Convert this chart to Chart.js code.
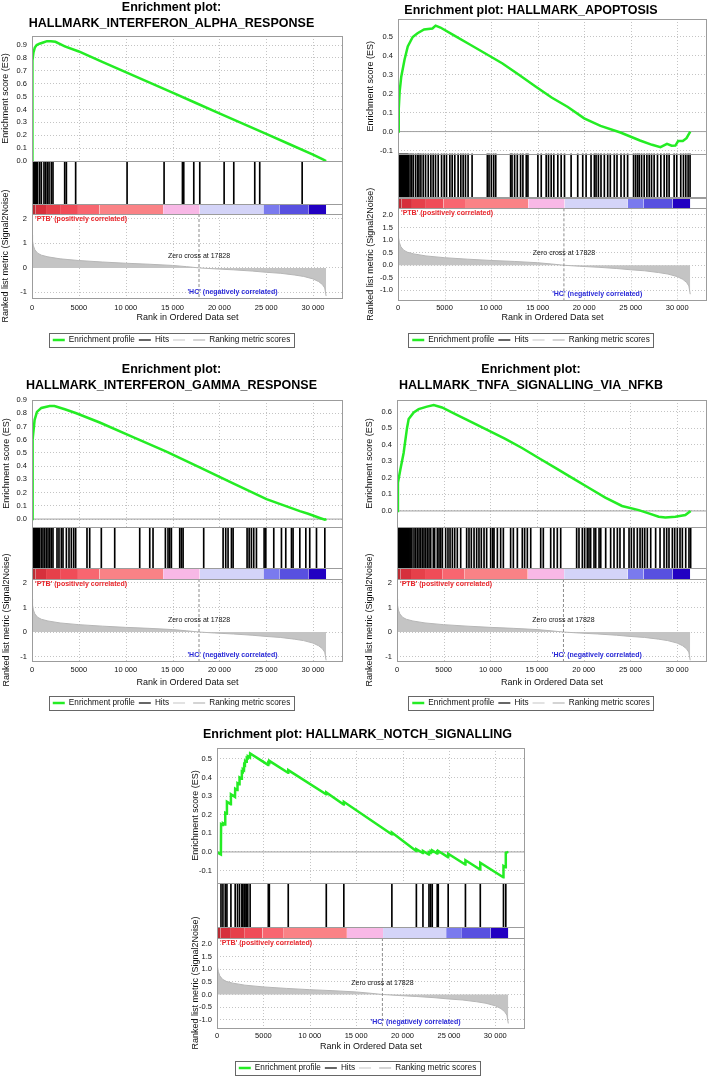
<!DOCTYPE html>
<html>
<head>
<meta charset="utf-8">
<title>GSEA enrichment plots</title>
<script src="https://cdn.jsdelivr.net/npm/chart.js@4.4.1/dist/chart.umd.min.js"></script>
<style>
  html, body { margin: 0; padding: 0; background: #fff; }
  body { width: 709px; height: 1078px; position: relative; overflow: hidden; }
  canvas { position: absolute; }
</style>
</head>
<body>
<canvas id="c1" width="354" height="356" style="left:0;top:0"></canvas>
<canvas id="c2" width="354" height="356" style="left:355px;top:0"></canvas>
<canvas id="c3" width="354" height="362" style="left:0;top:356px"></canvas>
<canvas id="c4" width="354" height="362" style="left:355px;top:356px"></canvas>
<canvas id="c5" width="354" height="356" style="left:190px;top:722px"></canvas>
<script>
// ---- data ----

// x axis ticks
var rankTicks = [0, 5000, 10000, 15000, 20000, 25000, 30000];
var rankTickLabels = ['0', '5000', '10 000', '15 000', '20 000', '25 000', '30 000'];

// ranked list metric (same ranked list for every gene set)
var metricRank  = [0, 60, 150, 300, 600, 1000, 1700, 3000, 5000, 7500, 10000, 12500, 15000, 16500, 17828, 19500, 21500, 23500, 25000, 26500, 28000, 29000, 30000, 30600, 31000, 31250, 31400];
var metricValue = [1.35, 1.1, 0.9, 0.74, 0.6, 0.52, 0.45, 0.37, 0.3, 0.24, 0.19, 0.15, 0.1, 0.05, 0, -0.04, -0.08, -0.13, -0.18, -0.22, -0.29, -0.35, -0.45, -0.56, -0.68, -0.82, -1.15];
var zeroCross = 17828;

// phenotype colour bar
var colorStart = [0, 400, 1500, 3000, 4900, 7200, 14000, 17900, 24700, 26400, 29500];
var colorEnd   = [400, 1500, 3000, 4900, 7200, 14000, 17900, 24700, 26400, 29500, 31400];
var colorFill  = ['#b82c34', '#d6303c', '#e6404a', '#f04c58', '#f86670', '#fa8286', '#f8b8e6', '#d4d4f8', '#7a7aee', '#5850e0', '#2200c2'];

// HALLMARK_INTERFERON_ALPHA_RESPONSE
var alphaRank = [0, 15, 40, 80, 150, 300, 500, 800, 1200, 1600, 2000, 2500, 3500, 5000, 7500, 10000, 12500, 15000, 17500, 20000, 22500, 25000, 27500, 30000, 31000, 31400];
var alphaES   = [0, 0.3, 0.6, 0.78, 0.84, 0.88, 0.9, 0.91, 0.92, 0.93, 0.93, 0.925, 0.89, 0.85, 0.77, 0.69, 0.61, 0.53, 0.45, 0.37, 0.29, 0.21, 0.13, 0.05, 0.015, 0];
var alphaHits = [0, 100, 200, 300, 400, 500, 600, 820, 1000, 1280, 1460, 1640, 1820, 2060, 2240, 3490, 3670, 4660, 10150, 14100, 16060, 16200, 17270, 17910, 20510, 21540, 23780, 24310, 28840];

// HALLMARK_APOPTOSIS
var apopRank = [0, 80, 175, 350, 700, 1050, 1580, 2100, 2800, 3700, 4040, 4560, 5970, 7720, 9480, 11230, 12990, 14740, 16500, 18250, 20000, 21760, 23900, 26000, 27300, 28200, 28900, 29400, 29800, 30100, 30600, 31000, 31400];
var apopES   = [0, 0.12, 0.21, 0.29, 0.38, 0.45, 0.5, 0.52, 0.54, 0.545, 0.56, 0.55, 0.51, 0.46, 0.41, 0.36, 0.3, 0.24, 0.18, 0.13, 0.07, 0.03, -0.005, -0.047, -0.07, -0.082, -0.065, -0.075, -0.074, -0.05, -0.05, -0.035, 0];
var apopHits = [0, 100, 200, 300, 400, 500, 600, 700, 800, 900, 1000, 1100, 1290, 1460, 1640, 1890, 2110, 2250, 2460, 2710, 2960, 3250, 3530, 3780, 4030, 4320, 4680, 4960, 5210, 5570, 5820, 6100, 6460, 6750, 7000, 7250, 7530, 7960,
  9600, 9780, 10030, 10280, 10500, 12100, 12250, 12530, 12820, 13170, 13420, 13780, 13960, 15030, 15390, 15920, 16170, 16460, 16740, 17170, 17530, 17890,
  18600, 19310, 19850, 20210, 20740, 21100, 21280, 21530, 21810, 22170, 22530, 22810, 23240, 23530, 23960, 24310, 24670,
  25310, 25530, 25740, 25920, 26170, 26450, 26740, 26990, 27240, 27520, 27880, 28240, 28600, 28880, 29130, 29670, 29950, 30380, 30670, 30920, 31170, 31380];

// HALLMARK_INTERFERON_GAMMA_RESPONSE
var gammaRank = [0, 30, 100, 280, 530, 1000, 1890, 2400, 3500, 4730, 7230, 10790, 14350, 17900, 21470, 25030, 28590, 29480, 30720, 31260, 31430];
var gammaES   = [0, 0.3, 0.6, 0.75, 0.81, 0.84, 0.855, 0.855, 0.83, 0.8, 0.73, 0.62, 0.51, 0.39, 0.27, 0.15, 0.06, 0.04, 0.008, -0.005, 0];
var gammaHits = [0, 100, 200, 300, 400, 500, 600, 700, 820, 1000, 1170, 1350, 1530, 1710, 1890, 2060, 2240, 2670, 2880, 3130, 3310, 3670, 3950, 4200, 4450, 4660, 5870, 6160, 7400, 8830,
  11500, 12570, 12920, 14240, 14520, 14700, 14880, 15770, 15950, 16130, 18330, 20400, 20680, 20930, 21290, 21470, 22960, 23180, 23420, 23670, 23960,
  24780, 24960, 25810, 26630, 27090, 27700, 27870, 28590, 29230, 29650, 30370, 31260];

// HALLMARK_TNFA_SIGNALLING_VIA_NFKB
var tnfRank = [0, 100, 360, 710, 1070, 1250, 1790, 2320, 3210, 3930, 4820, 6250, 8040, 9820, 11600, 13390, 15170, 16960, 18750, 20530, 22310, 24100, 25890, 26960, 28030, 28740, 29810, 30880, 31450];
var tnfES   = [0, 0.17, 0.25, 0.35, 0.5, 0.555, 0.595, 0.615, 0.63, 0.64, 0.625, 0.585, 0.535, 0.485, 0.435, 0.38, 0.32, 0.26, 0.2, 0.14, 0.08, 0.03, 0.005, -0.015, -0.035, -0.04, -0.035, -0.025, 0];
var tnfHits = [0, 100, 200, 300, 400, 500, 600, 700, 800, 900, 1000, 1100, 1200, 1300, 1400, 1500, 1600,
  1820, 2000, 2180, 2360, 2530, 2710, 2890, 3070, 3250, 3430, 3610, 3890, 4030, 4320, 4500, 4680, 4860, 5210, 5460, 5680, 5930, 6180, 6460, 6820,
  7460, 7710, 7960, 8250, 8530, 8780, 9030, 9320, 9600, 10030, 10250, 10390, 10750, 11100, 11390, 12170, 12460, 12890, 13420, 13670, 13960, 14320,
  15390, 15670, 16460, 16810, 17170, 17530, 19240, 19490, 19850, 20100, 20380, 20560, 20740, 21100, 21280, 21640, 21820, 22350, 22880, 23240, 23600, 23880,
  24310, 24850, 25100, 25380, 25740, 26030, 26280, 26530, 26810, 27170, 27700, 28170, 28600, 28880, 29130, 29490, 29740, 30020, 30310, 30560, 30920, 31270, 31450];

// HALLMARK_NOTCH_SIGNALLING
var notchRank = [0, 300, 420, 440, 620, 640, 870, 890, 1050, 1070, 1480, 1500, 1940, 1960, 2190, 2210, 2410, 2430, 2660, 2680, 2760, 2780, 2910, 2930, 3010, 3030, 3190, 3210, 3300, 3320, 3550, 3570,
  5510, 5530, 5620, 5640, 7660, 7680, 11760, 11780, 13650, 13670, 18830, 18850, 21470, 21490, 22180, 22200, 22830, 22850, 23010, 23030, 23180, 23200, 23720, 23740, 23830, 23850,
  24900, 24920, 26760, 26780, 28360, 28380, 30860, 30880, 31110, 31130, 31400];
var notchES   = [0, -0.01, -0.013, 0.15, 0.145, 0.155, 0.148, 0.21, 0.205, 0.27, 0.257, 0.31, 0.296, 0.34, 0.333, 0.37, 0.364, 0.4, 0.393, 0.43, 0.427, 0.445, 0.44, 0.47, 0.467, 0.49, 0.485, 0.505, 0.502, 0.515, 0.508, 0.53,
  0.468, 0.48, 0.477, 0.49, 0.426, 0.44, 0.31, 0.32, 0.255, 0.27, 0.095, 0.105, 0.005, 0.015, -0.006, 0.005, -0.014, -0.002, -0.006, 0.004, 0, 0.008, -0.008, 0, -0.003, 0.005,
  -0.028, -0.01, -0.068, -0.045, -0.095, -0.058, -0.136, -0.075, -0.082, -0.005, 0];
var notchHits = [430, 640, 890, 1070, 1500, 1960, 2210, 2430, 2680, 2780, 2930, 3030, 3210, 3320, 3570, 5530, 5640, 7680, 11780, 13670, 18850, 21490, 22200, 22850, 23030, 23200, 23740, 23850, 24920, 26780, 28380, 30880, 31130];

var legendLabels = ['Enrichment profile', 'Hits', '', 'Ranking metric scores'];

// ---- styling ----
var GREEN = '#24ec24';
var GRID = '#c4c4c4';
var FRAME = '#9c9c9c';
var RANK_MAX = 33200;

Chart.defaults.font.family = "'Liberation Sans', Arial, sans-serif";
Chart.defaults.color = '#111';
Chart.defaults.animation = false;

function pts(xs, ys) {
  return xs.map(function (x, i) { return {x: x, y: ys[i]}; });
}

// frames, x grid limited to ES / metric boxes, annotation text, legend box
var gseaFrame = {
  id: 'gseaFrame',
  beforeDatasetsDraw: function (chart) {
    var ctx = chart.ctx, s = chart.scales, x = s.x;
    ctx.save();
    ctx.strokeStyle = GRID;
    ctx.lineWidth = 1;
    ctx.setLineDash([1, 2]);
    [s.yES, s.yMet].forEach(function (y) {
      x.ticks.forEach(function (t) {
        if (t.value <= 0) return;
        var px = Math.round(x.getPixelForValue(t.value)) + 0.5;
        ctx.beginPath();
        ctx.moveTo(px, y.top);
        ctx.lineTo(px, y.bottom);
        ctx.stroke();
      });
    });
    ctx.restore();
  },
  afterDatasetsDraw: function (chart) {
    var ctx = chart.ctx, s = chart.scales, x = s.x, a = chart.chartArea;
    ctx.save();
    ctx.strokeStyle = FRAME;
    ctx.lineWidth = 1;
    [s.yES, s.yHits, s.yColor, s.yMet].forEach(function (y) {
      ctx.strokeRect(Math.round(a.left) + 0.5, Math.round(y.top) + 0.5, Math.round(a.right - a.left) - 1, Math.round(y.bottom - y.top));
    });
    var ym = s.yMet;
    ctx.font = 'bold 7px "Liberation Sans", Arial, sans-serif';
    ctx.textBaseline = 'middle';
    ctx.textAlign = 'left';
    ctx.fillStyle = '#e8242a';
    ctx.fillText("'PTB' (positively correlated)", a.left + 3, ym.top + 5);
    ctx.textAlign = 'center';
    ctx.fillStyle = '#2a2ad8';
    ctx.fillText("'HC' (negatively correlated)", x.getPixelForValue(21400), ym.bottom - 6);
    ctx.font = '7px "Liberation Sans", Arial, sans-serif';
    ctx.fillStyle = '#111';
    ctx.fillText('Zero cross at ' + zeroCross, x.getPixelForValue(zeroCross), ym.getPixelForValue(0.47));
    ctx.restore();
  },
  afterDraw: function (chart) {
    var hb = chart.legend && chart.legend.legendHitBoxes;
    if (!hb || !hb.length) return;
    var l = Infinity, r = -Infinity, t = Infinity, b = -Infinity;
    hb.forEach(function (h) {
      l = Math.min(l, h.left); r = Math.max(r, h.left + h.width);
      t = Math.min(t, h.top); b = Math.max(b, h.top + h.height);
    });
    var ctx = chart.ctx;
    ctx.save();
    ctx.strokeStyle = '#666';
    ctx.lineWidth = 1;
    ctx.strokeRect(Math.round(l - 4) + 0.5, Math.round(t - 3) + 0.5, Math.round(r - l + 8), Math.round(b - t + 6));
    ctx.restore();
  }
};

function makePanel(p) {
  var titleLine = 16, titleSize = 12.5;
  var tickSize = 7.5, axisTitleSize = 9, legendSize = 8.2, legPad = 4;
  var tPadTop = Math.max(0, p.titleCenter - titleLine / 2);
  var tPadBottom = Math.max(0, p.plotTop - tPadTop - p.title.length * titleLine);
  var xH = p.legendOff - legPad - legendSize / 2;
  var xTitlePad = Math.max(0, xH - p.xTitleOff - axisTitleSize * 1.2 / 2);
  var legH = legendSize + legPad + 10;
  var canvas = document.getElementById(p.canvas);
  var padBottom = canvas.height - p.plotBottom - xH - legH;
  var fixW = function (sc) { sc.width = p.plotLeft; };
  var yTitlePad = Math.max(0, p.yTitleX - axisTitleSize * 1.2 / 2);

  var datasets = [];
  datasets.push({type: 'line', label: legendLabels[0], data: pts(p.rank, p.es), yAxisID: 'yES',
    borderColor: GREEN, borderWidth: 2.5, pointRadius: 0, tension: 0, order: 0});
  datasets.push({type: 'bar', label: legendLabels[1], data: p.hits.map(function (r) { return {x: r, y: [0, 1]}; }),
    yAxisID: 'yHits', backgroundColor: '#000', barThickness: 1, order: 1});
  if (p.esMin < 0) {
    datasets.push({type: 'line', data: [{x: 0, y: 0}, {x: RANK_MAX, y: 0}], yAxisID: 'yES',
      borderColor: '#a0a0a0', borderWidth: 1, pointRadius: 0, order: 5});
  }
  colorStart.forEach(function (s0, i) {
    datasets.push({type: 'line', data: [{x: s0, y: 1}, {x: colorEnd[i], y: 1}], yAxisID: 'yColor',
      fill: 'start', backgroundColor: colorFill[i], borderWidth: 0, pointRadius: 0, order: 6});
  });
  datasets.push({type: 'line', label: legendLabels[3], data: pts(metricRank, metricValue), yAxisID: 'yMet',
    fill: 'origin', backgroundColor: '#c4c4c4', borderColor: '#b6b6b6', borderWidth: 1, pointRadius: 0, order: 4});
  datasets.push({type: 'line', data: [{x: zeroCross, y: p.metMax}, {x: zeroCross, y: p.metMin}], yAxisID: 'yMet',
    borderColor: '#8c8c8c', borderWidth: 1, borderDash: [3, 2], pointRadius: 0, order: 3});

  var plainY = function (weight, h) {
    return {type: 'linear', position: 'left', stack: 'gsea', stackWeight: h, weight: weight, min: 0, max: 1,
      ticks: {display: false}, grid: {display: false, drawTicks: false}, border: {display: false}, afterFit: fixW};
  };

  return new Chart(canvas, {
    type: 'line',
    data: {datasets: datasets},
    options: {
      responsive: false,
      devicePixelRatio: 1,
      events: [],
      layout: {padding: {left: 0, top: 0, right: canvas.width - p.plotRight, bottom: padBottom}},
      scales: {
        x: {type: 'linear', position: 'bottom', min: 0, max: RANK_MAX, offset: false,
          afterBuildTicks: function (sc) { sc.ticks = rankTicks.map(function (v) { return {value: v}; }); },
          ticks: {autoSkip: false, maxRotation: 0, padding: p.xLabelOff - tickSize * 0.6,
            font: {size: tickSize}, callback: function (v, i) { return rankTickLabels[i]; }},
          grid: {display: false, drawTicks: false, offset: false}, border: {display: false},
          title: {display: true, text: 'Rank in Ordered Data set', font: {size: axisTitleSize}, padding: {top: 0, bottom: xTitlePad}},
          afterFit: function (sc) { sc.height = xH; }},
        yES: {type: 'linear', position: 'left', stack: 'gsea', stackWeight: p.heights[0], weight: 4,
          min: p.esMin, max: p.esMax,
          ticks: {stepSize: 0.1, includeBounds: false, autoSkip: false, padding: 5, font: {size: tickSize},
            callback: function (v) { return v.toFixed(1); }},
          grid: {color: GRID, drawTicks: false}, border: {display: false, dash: [1, 2]},
          title: {display: true, text: 'Enrichment score (ES)', font: {size: axisTitleSize}, padding: {top: yTitlePad, bottom: 0}},
          afterFit: fixW},
        yHits: plainY(3, p.heights[1]),
        yColor: plainY(2, p.heights[2]),
        yMet: {type: 'linear', position: 'left', stack: 'gsea', stackWeight: p.heights[3], weight: 1,
          min: p.metMin, max: p.metMax,
          ticks: {stepSize: p.metStep, includeBounds: false, autoSkip: false, padding: 5, font: {size: tickSize},
            callback: function (v) { return v.toFixed(p.metDigits); }},
          grid: {color: GRID, drawTicks: false}, border: {display: false, dash: [1, 2]},
          title: {display: true, text: 'Ranked list metric (Signal2Noise)', font: {size: axisTitleSize}, padding: {top: yTitlePad, bottom: 0}},
          afterFit: fixW}
      },
      plugins: {
        title: {display: true, text: p.title, color: '#000',
          font: {size: titleSize, weight: 'bold', lineHeight: titleLine / titleSize},
          padding: {top: tPadTop, bottom: tPadBottom}},
        legend: {display: true, position: 'bottom',
          labels: {usePointStyle: true, pointStyleWidth: 12, padding: legPad, color: '#111',
            font: {size: legendSize},
            generateLabels: function () {
              var cols = [GREEN, '#333', '#d8d8d8', '#c6c6c6'];
              return legendLabels.map(function (t, i) {
                return {text: t, strokeStyle: cols[i], fillStyle: cols[i], lineWidth: i === 0 ? 2.5 : 1.5,
                  pointStyle: 'line', hidden: false, fontColor: '#111'};
              });
            }}},
        tooltip: {enabled: false}
      }
    },
    plugins: [gseaFrame]
  });
}

makePanel({canvas: 'c1', title: ['Enrichment plot:', 'HALLMARK_INTERFERON_ALPHA_RESPONSE'],
  rank: alphaRank, es: alphaES, hits: alphaHits, esMin: 0, esMax: 0.97, metMin: -1.23, metMax: 2.2, metStep: 1, metDigits: 0,
  plotLeft: 32, plotRight: 343, plotTop: 36, plotBottom: 298, heights: [125, 43, 10, 84],
  titleCenter: 8, yTitleX: 6, xLabelOff: 10, xTitleOff: 20, legendOff: 42});

makePanel({canvas: 'c2', title: ['Enrichment plot: HALLMARK_APOPTOSIS'],
  rank: apopRank, es: apopES, hits: apopHits, esMin: -0.116, esMax: 0.595, metMin: -1.38, metMax: 2.26, metStep: 0.5, metDigits: 1,
  plotLeft: 43, plotRight: 352, plotTop: 18, plotBottom: 300, heights: [135, 44, 11, 92],
  titleCenter: 11, yTitleX: 16, xLabelOff: 8, xTitleOff: 18, legendOff: 40});

makePanel({canvas: 'c3', title: ['Enrichment plot:', 'HALLMARK_INTERFERON_GAMMA_RESPONSE'],
  rank: gammaRank, es: gammaES, hits: gammaHits, esMin: -0.06, esMax: 0.9, metMin: -1.18, metMax: 2.16, metStep: 1, metDigits: 0,
  plotLeft: 32, plotRight: 343, plotTop: 44, plotBottom: 305, heights: [127, 41, 11, 82],
  titleCenter: 14, yTitleX: 7, xLabelOff: 9, xTitleOff: 22, legendOff: 42});

makePanel({canvas: 'c4', title: ['Enrichment plot:', 'HALLMARK_TNFA_SIGNALLING_VIA_NFKB'],
  rank: tnfRank, es: tnfES, hits: tnfHits, esMin: -0.097, esMax: 0.67, metMin: -1.18, metMax: 2.16, metStep: 1, metDigits: 0,
  plotLeft: 42, plotRight: 352, plotTop: 44, plotBottom: 305, heights: [127, 41, 11, 82],
  titleCenter: 14, yTitleX: 15, xLabelOff: 9, xTitleOff: 22, legendOff: 42});

makePanel({canvas: 'c5', title: ['Enrichment plot: HALLMARK_NOTCH_SIGNALLING'],
  rank: notchRank, es: notchES, hits: notchHits, esMin: -0.167, esMax: 0.559, metMin: -1.33, metMax: 2.24, metStep: 0.5, metDigits: 1,
  plotLeft: 27, plotRight: 335, plotTop: 26, plotBottom: 306, heights: [135, 44, 11, 90],
  titleCenter: 13, yTitleX: 2, xLabelOff: 8, xTitleOff: 19, legendOff: 40});
</script>
</body>
</html>
